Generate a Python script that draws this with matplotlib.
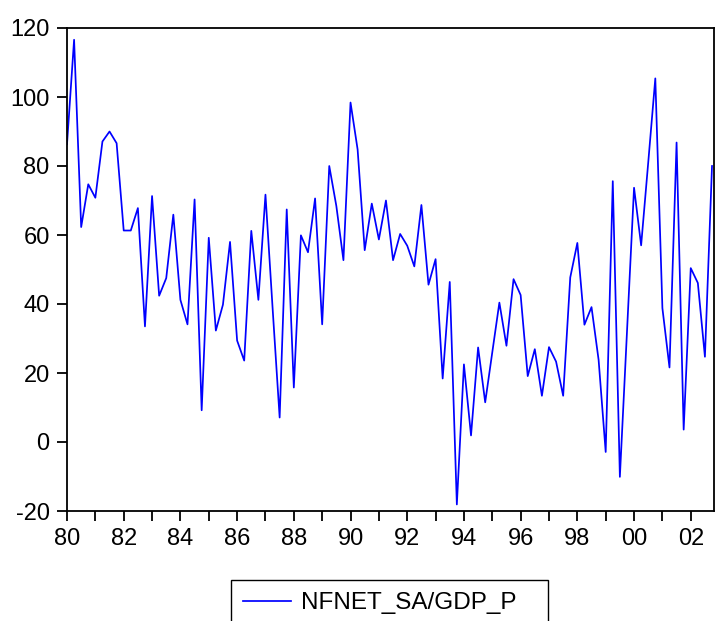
import matplotlib
matplotlib.use("Agg")
import matplotlib.pyplot as plt
import numpy as np

# quarterly series, 1980Q1 .. 2002Q4
start_year = 1980
nfnet_gdp = [
    86.3, 116.6, 62.3, 74.7, 70.8, 87.1, 90.0, 86.6,
    61.3, 61.3, 67.8, 33.5, 71.3, 42.4, 47.5, 65.9,
    41.2, 34.1, 70.3, 9.2, 59.2, 32.3, 39.8, 58.0,
    29.4, 23.6, 61.2, 41.2, 71.7, 39.0, 7.1, 67.4,
    15.8, 59.9, 55.0, 70.6, 34.1, 80.0, 68.4, 52.7,
    98.4, 84.8, 55.6, 69.1, 58.7, 70.0, 52.7, 60.3,
    56.9, 50.9, 68.7, 45.6, 53.0, 18.4, 46.4, -18.1,
    22.5, 1.9, 27.4, 11.5, 26.0, 40.4, 27.9, 47.2,
    42.6, 19.1, 26.9, 13.4, 27.5, 23.3, 13.4, 47.7,
    57.7, 34.0, 39.1, 23.8, -2.9, 75.6, -10.1, 31.8,
    73.7, 57.0, 81.0, 105.4, 38.8, 21.6, 86.8, 3.6,
    50.4, 46.1, 24.7, 80.0,
]
series_name = "NFNET_SA/GDP_P"
tick_years = list(range(1980, 2003))
y_ticks = [-20, 0, 20, 40, 60, 80, 100, 120]

plt.rcParams["font.family"] = ["Liberation Sans", "DejaVu Sans"]

x = start_year + np.arange(len(nfnet_gdp)) / 4.0

fig = plt.figure(figsize=(7.19, 6.21), dpi=100)
ax = fig.add_axes([67 / 719, 1 - 511 / 621, 647 / 719, 483 / 621])

ax.plot(x, nfnet_gdp, color="#0000ff", linewidth=1.25, label=series_name)

ax.set_xlim(1980, 2002.82)
ax.set_ylim(-20, 120)
ax.set_xticks(tick_years)
ax.set_xticklabels([f"{y % 100:02d}" if y % 2 == 0 else "" for y in tick_years])
ax.set_yticks(y_ticks)
ax.set_yticklabels([str(v) for v in y_ticks])

for s in ax.spines.values():
    s.set_linewidth(1.3)
ax.tick_params(direction="out", length=7.5, width=1.3, labelsize=17)
ax.tick_params(axis="x", pad=4.5)
ax.tick_params(axis="y", pad=5)

# legend box: left 231px, width 317px, top 580px
fig.legend(
    loc="upper left",
    bbox_to_anchor=(231 / 719, 1 - 580 / 621, 317 / 719, 0),
    mode="expand",
    fontsize=17.5,
    frameon=True,
    fancybox=False,
    edgecolor="black",
    framealpha=1,
    handlelength=1.95,
    handletextpad=0.42,
    borderpad=0.5,
    borderaxespad=0,
)

fig.savefig("out.png", dpi=100)
